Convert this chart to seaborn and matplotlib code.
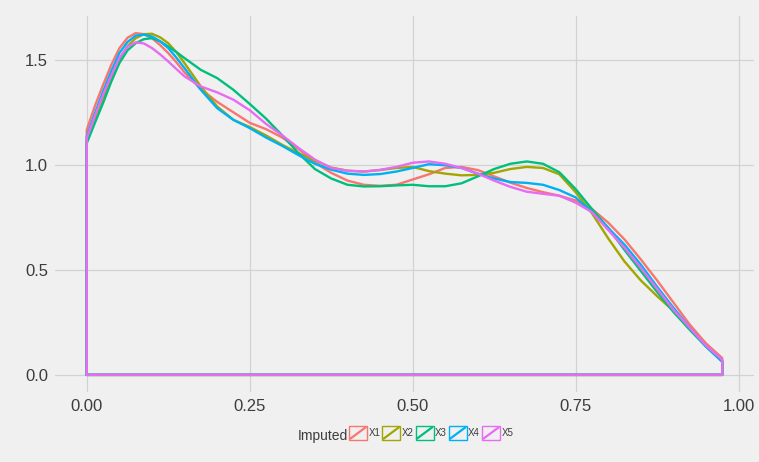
import numpy as np
import pandas as pd
import seaborn as sns
import matplotlib.pyplot as plt
from matplotlib.patches import Rectangle
from matplotlib.lines import Line2D
from matplotlib.legend_handler import HandlerBase

# density curves (x grid shared by all imputations)
x_grid = [0.0, 0.0125, 0.025, 0.0375, 0.05, 0.0625, 0.075, 0.0875, 0.1,
          0.1125, 0.125, 0.1375, 0.15, 0.175, 0.2, 0.225,
          0.25, 0.275, 0.3, 0.325, 0.35, 0.375, 0.4, 0.425, 0.45, 0.475,
          0.5, 0.525, 0.55, 0.575, 0.6, 0.625, 0.65, 0.675, 0.7, 0.725,
          0.75, 0.775, 0.8, 0.825, 0.85, 0.875, 0.9, 0.925, 0.95, 0.975]

x1 = [1.167, 1.28, 1.38, 1.475, 1.555, 1.605, 1.627, 1.622, 1.603,
      1.57, 1.532, 1.488, 1.44, 1.36, 1.30, 1.25,
      1.20, 1.17, 1.13, 1.075, 1.01, 0.962, 0.925, 0.905, 0.90, 0.905,
      0.93, 0.955, 0.985, 0.99, 0.975, 0.945, 0.915, 0.89, 0.87, 0.853,
      0.83, 0.79, 0.725, 0.645, 0.55, 0.45, 0.345, 0.24, 0.15, 0.08]
x2 = [1.12, 1.215, 1.31, 1.41, 1.50, 1.565, 1.603, 1.622, 1.624,
      1.607, 1.579, 1.536, 1.484, 1.373, 1.278, 1.214,
      1.18, 1.14, 1.095, 1.055, 1.02, 0.987, 0.972, 0.968, 0.975, 0.985,
      0.99, 0.97, 0.958, 0.95, 0.952, 0.962, 0.98, 0.99, 0.985, 0.955,
      0.87, 0.77, 0.65, 0.54, 0.45, 0.375, 0.305, 0.225, 0.14, 0.07]
x3 = [1.103, 1.20, 1.294, 1.395, 1.484, 1.545, 1.579, 1.598, 1.603,
      1.588, 1.563, 1.537, 1.508, 1.452, 1.413, 1.357,
      1.29, 1.22, 1.14, 1.055, 0.98, 0.935, 0.905, 0.897, 0.898, 0.902,
      0.905, 0.898, 0.898, 0.912, 0.945, 0.98, 1.005, 1.016, 1.005, 0.965,
      0.885, 0.79, 0.70, 0.595, 0.495, 0.395, 0.30, 0.215, 0.135, 0.065]
x4 = [1.135, 1.245, 1.349, 1.445, 1.532, 1.585, 1.615, 1.62, 1.611,
      1.588, 1.556, 1.51, 1.46, 1.357, 1.27, 1.214,
      1.175, 1.13, 1.09, 1.046, 1.005, 0.977, 0.958, 0.952, 0.956, 0.968,
      0.985, 1.003, 0.998, 0.985, 0.958, 0.935, 0.918, 0.914, 0.905, 0.88,
      0.845, 0.775, 0.70, 0.62, 0.525, 0.42, 0.32, 0.225, 0.135, 0.062]
x5 = [1.127, 1.232, 1.333, 1.425, 1.508, 1.562, 1.583, 1.578, 1.556,
      1.526, 1.492, 1.456, 1.421, 1.373, 1.345, 1.31,
      1.26, 1.195, 1.14, 1.08, 1.025, 0.985, 0.972, 0.968, 0.976, 0.99,
      1.01, 1.016, 1.005, 0.985, 0.958, 0.925, 0.895, 0.872, 0.862, 0.853,
      0.82, 0.775, 0.69, 0.605, 0.51, 0.41, 0.31, 0.225, 0.14, 0.072]

series = {"X1": x1, "X2": x2, "X3": x3, "X4": x4, "X5": x5}
colors = ["#F8766D", "#A3A500", "#00BF7D", "#00B0F6", "#E76BF3"]

# closed outline like geom_density: baseline -> curve -> down -> back along baseline
rows = []
for name, ys in series.items():
    xs = [x_grid[0]] + x_grid + [x_grid[-1], x_grid[0]]
    yy = [0.0] + ys + [0.0, 0.0]
    for xv, yv in zip(xs, yy):
        rows.append((name, xv, yv))
df = pd.DataFrame(rows, columns=["Imputed", "x", "density"])

bg = "#F0F0F0"
sns.set_theme(style="whitegrid")
plt.rcParams['font.family'] = ['Liberation Sans', 'DejaVu Sans']

fig = plt.figure(figsize=(7.59, 4.62), dpi=100, facecolor=bg)
ax = fig.add_axes([55 / 759, 1 - 392 / 462, 699 / 759, 376 / 462])
ax.set_facecolor(bg)

sns.lineplot(data=df, x="x", y="density", hue="Imputed", palette=colors,
             sort=False, estimator=None, linewidth=1.7, legend=False, ax=ax)

ax.set_xlim(-0.04875, 1.02375)
ax.set_ylim(-0.0815, 1.7085)
ax.set_xticks([0, 0.25, 0.5, 0.75, 1.0])
ax.set_xticklabels(["0.00", "0.25", "0.50", "0.75", "1.00"])
ax.set_yticks([0, 0.5, 1.0, 1.5])
ax.set_yticklabels(["0.0", "0.5", "1.0", "1.5"])
ax.set_xlabel("")
ax.set_ylabel("")
ax.grid(True, color="#D2D2D2", linewidth=0.9)
for s in ax.spines.values():
    s.set_visible(False)
ax.tick_params(axis="both", length=0, labelsize=12, labelcolor="#3C3C3C")
ax.tick_params(axis="x", pad=5)
ax.tick_params(axis="y", pad=5)


class BoxDiag(HandlerBase):
    def create_artists(self, legend, orig_handle, xdescent, ydescent,
                       width, height, fontsize, trans):
        c = orig_handle.get_color()
        box = Rectangle((-xdescent, -ydescent), width, height, facecolor=bg,
                        edgecolor=c, linewidth=1.0, transform=trans)
        diag = Line2D([-xdescent + 1, -xdescent + width - 1],
                      [-ydescent + 1, -ydescent + height - 1],
                      color=c, linewidth=1.6, transform=trans)
        return [box, diag]


handles = [Line2D([], [], color=c) for c in colors]
fig.text(298 / 759, 1 - 436 / 462, "Imputed", fontsize=10, color="#3C3C3C",
         ha="left", va="center")
fig.legend(handles, list(series.keys()), handler_map={Line2D: BoxDiag()},
           loc="center left", bbox_to_anchor=(349 / 759, 1 - 433 / 462),
           ncol=5, frameon=False, fontsize=7, labelcolor="#3C3C3C",
           handlelength=1.85, handleheight=1.85, handletextpad=0.15,
           columnspacing=0.2, borderpad=0, borderaxespad=0)

fig.savefig("out.png", dpi=100, facecolor=bg)
